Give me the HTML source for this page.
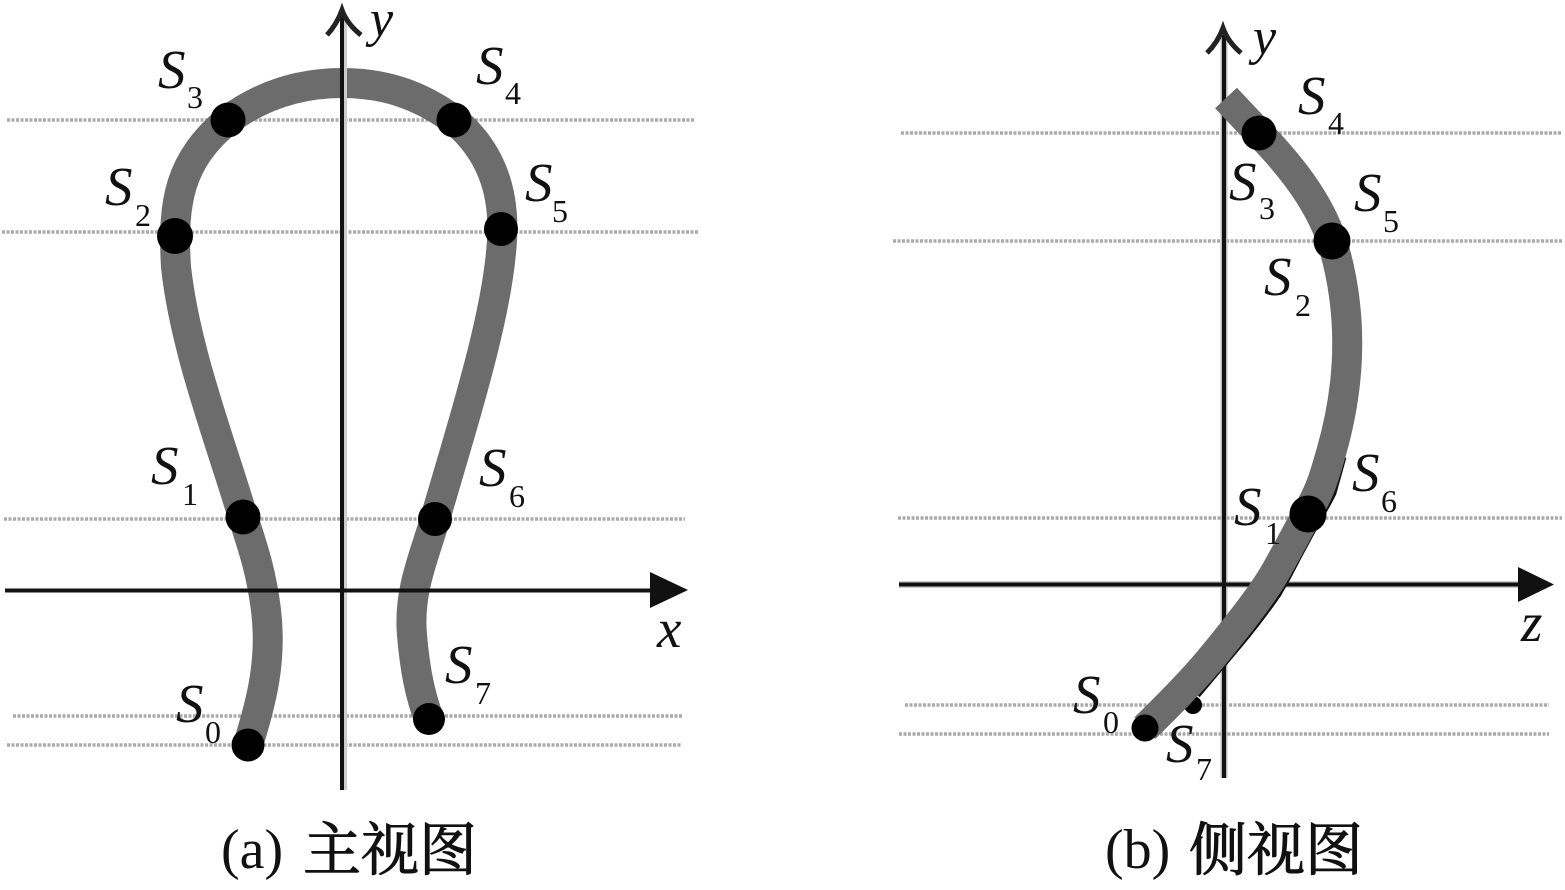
<!DOCTYPE html>
<html><head><meta charset="utf-8">
<style>
html,body{margin:0;padding:0;background:#fff;width:1565px;height:890px;overflow:hidden}
svg{display:block}
.s{font-family:"Liberation Serif",serif;font-style:italic;font-size:55px;fill:#111}
.y{font-family:"Liberation Serif",serif;font-style:italic;font-size:52px;fill:#111}
.n{font-family:"Liberation Serif",serif;font-size:32px;fill:#111}
.c{font-family:"Liberation Serif",serif;font-size:56px;fill:#111}
.h{font-family:"Noto Serif CJK SC",serif;font-size:58px;font-weight:normal;fill:#111;stroke:#111;stroke-width:1}
</style></head><body>
<svg width="1565" height="890" viewBox="0 0 1565 890" xmlns="http://www.w3.org/2000/svg">
<g stroke="#aaa" stroke-width="3.5" stroke-dasharray="3 1.5" fill="none">
<path d="M7 120H694M2 232H698M4 519H685M13 716H682M7 745H682"/>
<path d="M901 133H1562M893 241H1562M898 518H1562M905 705H1549M899 734H1549"/>
</g>
<!-- front view curve -->
<path d="M248 745C262 700 272 660 266 610C261 570 252 545 243 517C220 440 185 350 176 267C172 200 180 160 228 120C262 95 300 83 342 83C385 83 420 95 454 120C490 150 505 190 502 240C498 310 470 400 435 519C425 555 408 590 412 635C415 670 420 695 429 719" fill="none" stroke="#6c6c6c" stroke-width="30"/>
<!-- front axes -->
<path d="M345.5 15V790" stroke="#ccc" stroke-width="3" fill="none"/>
<g stroke="#111" stroke-width="4" fill="none">
<path d="M5 590.5H660M342 790V15"/>
</g>
<path d="M327 35Q337 24 342 10Q347 24 361 35" stroke="#222" stroke-width="5" fill="none"/>
<path d="M650 572L688 590L650 608Z" fill="#111"/>
<!-- side axes -->
<path d="M899 584.5H1525" stroke="#ccc" stroke-width="7" fill="none"/>
<path d="M1224 778V35" stroke="#bbb" stroke-width="7" fill="none"/>
<g stroke="#111" stroke-width="4" fill="none">
<path d="M899 584.5H1525M1224 778V35"/>
</g>
<path d="M1207 53Q1218 42 1223 28Q1228 42 1241 53" stroke="#222" stroke-width="5" fill="none"/>
<path d="M1518 567L1554 584.5L1518 602Z" fill="#111"/>
<!-- side view curve with dark edge -->
<circle cx="1193" cy="705" r="9" fill="#000"/>
<path d="M1197 695L1239 645Q1260 620 1278 594Q1288 577 1297 559L1318 520Q1326 507 1333 493L1343 457" fill="none" stroke="#111" stroke-width="7" stroke-linejoin="round"/>
<path d="M1145 728Q1187 687 1208 662Q1229 637 1248 612Q1267 587 1276.5 570Q1286 553 1296.5 533.5Q1307 514 1314 500.5Q1321 487 1326 470L1331 453C1355 370 1350 300 1332 241C1318 200 1290 165 1259 133L1226 98" fill="none" stroke="#6c6c6c" stroke-width="30"/>
<g fill="#000">
<circle cx="228" cy="120" r="17.5"/><circle cx="454" cy="120" r="17.5"/><circle cx="175" cy="236" r="18"/><circle cx="501" cy="229" r="17"/><circle cx="243" cy="517" r="17.5"/><circle cx="435" cy="519" r="17"/><circle cx="429" cy="719" r="16"/><circle cx="248" cy="745" r="16.5"/>
<circle cx="1259" cy="133" r="17.5"/><circle cx="1332" cy="241" r="18.5"/><circle cx="1308" cy="514" r="18.5"/><circle cx="1145" cy="728" r="13.5"/>
</g>
<g class="y"><text x="370" y="36">y</text><text x="1253" y="54">y</text></g>
<g class="s">
<text x="657" y="647">x</text><text x="1521" y="641">z</text>
<text x="158" y="88">S</text><text x="476" y="84">S</text><text x="105" y="205">S</text><text x="525" y="201">S</text><text x="151" y="484">S</text><text x="479" y="486">S</text><text x="445" y="683">S</text><text x="176" y="722">S</text>
<text x="1298" y="114">S</text><text x="1229" y="200">S</text><text x="1354" y="211">S</text><text x="1264" y="295">S</text><text x="1352" y="491">S</text><text x="1234" y="525">S</text><text x="1073" y="713">S</text><text x="1166" y="762">S</text>
</g>
<g class="n">
<text x="187" y="108">3</text><text x="505" y="104">4</text><text x="135" y="226">2</text><text x="552" y="222">5</text><text x="182" y="505">1</text><text x="509" y="507">6</text><text x="475" y="704">7</text><text x="205" y="743">0</text>
<text x="1328" y="134">4</text><text x="1259" y="219">3</text><text x="1383" y="232">5</text><text x="1295" y="316">2</text><text x="1381" y="512">6</text><text x="1265" y="544">1</text><text x="1103" y="733">0</text><text x="1196" y="780">7</text>
</g>
<text class="c" x="221" y="868">(a)</text>
<text class="h" x="303" y="870">主视图</text>
<text class="c" x="1105" y="868">(b)</text>
<text class="h" x="1189" y="870">侧视图</text>
</svg>
</body></html>
